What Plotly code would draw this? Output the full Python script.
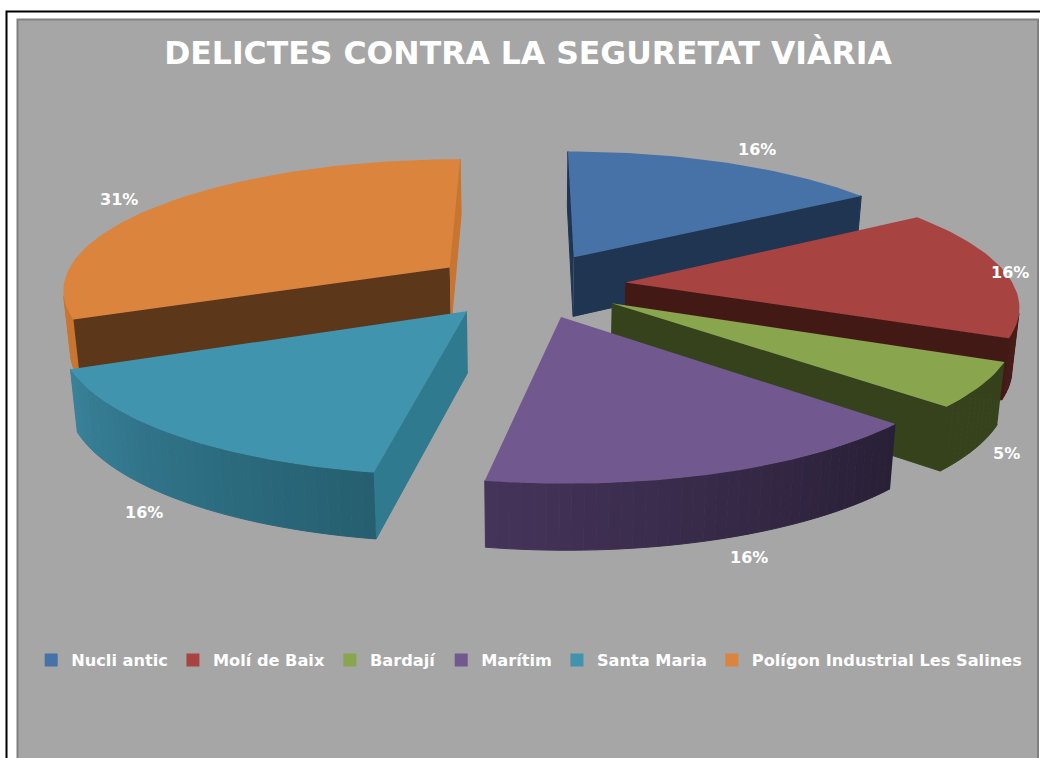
import numpy as np
import plotly.graph_objects as go

# ---------- data ----------
categories = ["Nucli antic", "Molí de Baix", "Bardají", "Marítim", "Santa Maria", "Polígon Industrial Les Salines"]
values = [15.8, 15.8, 5.3, 15.8, 15.8, 31.4]

# ---------- style ----------
top_colors = ["#4672A8", "#A74442", "#89A54E", "#71588F", "#4094AE", "#DB843D"]
side_start = ["#1F3552", "#431916", "#36421C", "#2A2036", "#2F7A8E", "#5C3719"]
side_end = ["#1F3552", "#431916", "#36421C", "#2A2036", "#2F7A8E", "#C9752F"]
rim_start = ["#1F3552", "#6A2A28", "#36421C", "#291F36", "#255F70", "#C9752F"]
rim_end = ["#1F3552", "#431916", "#36421C", "#44345A", "#388199", "#D9803A"]
label_shift = [(30, -13), (5, 0), (25, 68), (31, 84), (-30, 78), (-44, -5)]
draw_order = [5, 0, 1, 2, 4, 3]

CX, CY, R0, TILT, DIST, EXPLODE, DEPTH = 529, 285, 388, 0.335, 6.5, 0.25, 60
BG = "#A6A6A6"


def project(x, y, bottom=False):
    s = 1 / (1 + np.asarray(y) / DIST)
    sx = CX + R0 * s * np.asarray(x)
    sy = CY - R0 * TILT * s * np.asarray(y)
    if bottom:
        sx = CX + (sx - CX) * 0.985
        sy = sy + DEPTH * s ** 0.5
    return sx, sy


def mix(a, b, t):
    ca = [int(a[i:i + 2], 16) for i in (1, 3, 5)]
    cb = [int(b[i:i + 2], 16) for i in (1, 3, 5)]
    return "#%02x%02x%02x" % tuple(int(round(p + (q - p) * t)) for p, q in zip(ca, cb))


def area(px, py):
    return 0.5 * np.sum(px * np.roll(py, -1) - np.roll(px, -1) * py)


fig = go.Figure()


def poly(px, py, color, line=True):
    fig.add_trace(go.Scatter(
        x=list(px), y=list(py), mode="lines", fill="toself", fillcolor=color,
        line=dict(color=color, width=1 if line else 0), hoverinfo="skip", showlegend=False))


# legend entries
for name, col in zip(categories, top_colors):
    fig.add_trace(go.Scatter(x=[None], y=[None], mode="markers", name=name,
                             marker=dict(symbol="square", size=13, color=col), hoverinfo="skip"))

fractions = np.array(values) / sum(values)
starts = np.concatenate([[0], np.cumsum(fractions)[:-1]]) * 2 * np.pi
ends = np.cumsum(fractions) * 2 * np.pi
mids = (starts + ends) / 2

for i in draw_order:
    ax = EXPLODE * np.sin(mids[i])
    ay = EXPLODE * np.cos(mids[i])
    th = np.linspace(starts[i], ends[i], max(8, int((ends[i] - starts[i]) * 40)))
    rx = ax + np.sin(th)
    ry = ay + np.cos(th)

    # radial walls (keep only the ones facing the viewer)
    for ex, ey, sign, col in ((rx[0], ry[0], -1, side_start[i]), (rx[-1], ry[-1], 1, side_end[i])):
        tx, ty = project([ax, ex], [ay, ey])
        bx, by = project([ex, ax], [ey, ay], bottom=True)
        qx, qy = np.r_[tx, bx], np.r_[ty, by]
        if sign * area(qx, qy) > 0:
            poly(qx, qy, col)

    # outer rim with gradient
    tx, ty = project(rx, ry)
    bx, by = project(rx, ry, bottom=True)
    for k in range(len(th) - 1):
        qx = np.array([tx[k], tx[k + 1], bx[k + 1], bx[k]])
        qy = np.array([ty[k], ty[k + 1], by[k + 1], by[k]])
        if area(qx, qy) < 0:
            poly(qx, qy, mix(rim_start[i], rim_end[i], k / (len(th) - 2)))

    # top face
    fx, fy = project(np.r_[ax, rx], np.r_[ay, ry])
    poly(np.r_[fx, fx[0]], np.r_[fy, fy[0]], top_colors[i], line=False)

annotations = []
for i, frac in enumerate(fractions):
    ax = (1 + EXPLODE) * np.sin(mids[i])
    ay = (1 + EXPLODE) * np.cos(mids[i])
    lx, ly = project(ax, ay)
    annotations.append(dict(x=float(lx), y=float(ly), text=f"{frac * 100:.0f}%", showarrow=False,
                            xshift=label_shift[i][0], yshift=-label_shift[i][1],
                            font=dict(family="DejaVu Sans", size=16, color="white", weight="bold")))

fig.update_layout(
    width=1040, height=758, margin=dict(l=0, r=0, t=0, b=0, autoexpand=False),
    paper_bgcolor="white", plot_bgcolor="rgba(0,0,0,0)",
    xaxis=dict(range=[0, 1040], visible=False, fixedrange=True),
    yaxis=dict(range=[758, 0], visible=False, fixedrange=True),
    title=dict(text="DELICTES CONTRA LA SEGURETAT VIÀRIA", x=528 / 1040, xanchor="center",
               y=1 - 53 / 758, yanchor="middle",
               font=dict(family="DejaVu Sans", size=31.5, color="white", weight="bold")),
    legend=dict(orientation="h", x=0.03, xanchor="left", y=1 - 643 / 758, yanchor="top",
                bgcolor="rgba(0,0,0,0)", itemclick=False, itemdoubleclick=False,
                font=dict(family="DejaVu Sans", size=16.2, color="white", weight="bold")),
    annotations=annotations,
    shapes=[
        dict(type="rect", x0=6.5, y0=11.5, x1=1060, y1=780, line=dict(color="black", width=2),
             fillcolor="white", layer="below"),
        dict(type="rect", x0=17.5, y0=19.5, x1=1038, y1=780, line=dict(color="#808080", width=2),
             fillcolor=BG, layer="below"),
    ],
)
fig.write_html("out.html", config={"displayModeBar": False},
               post_script="document.body.style.margin='0';document.body.style.overflow='hidden';")
